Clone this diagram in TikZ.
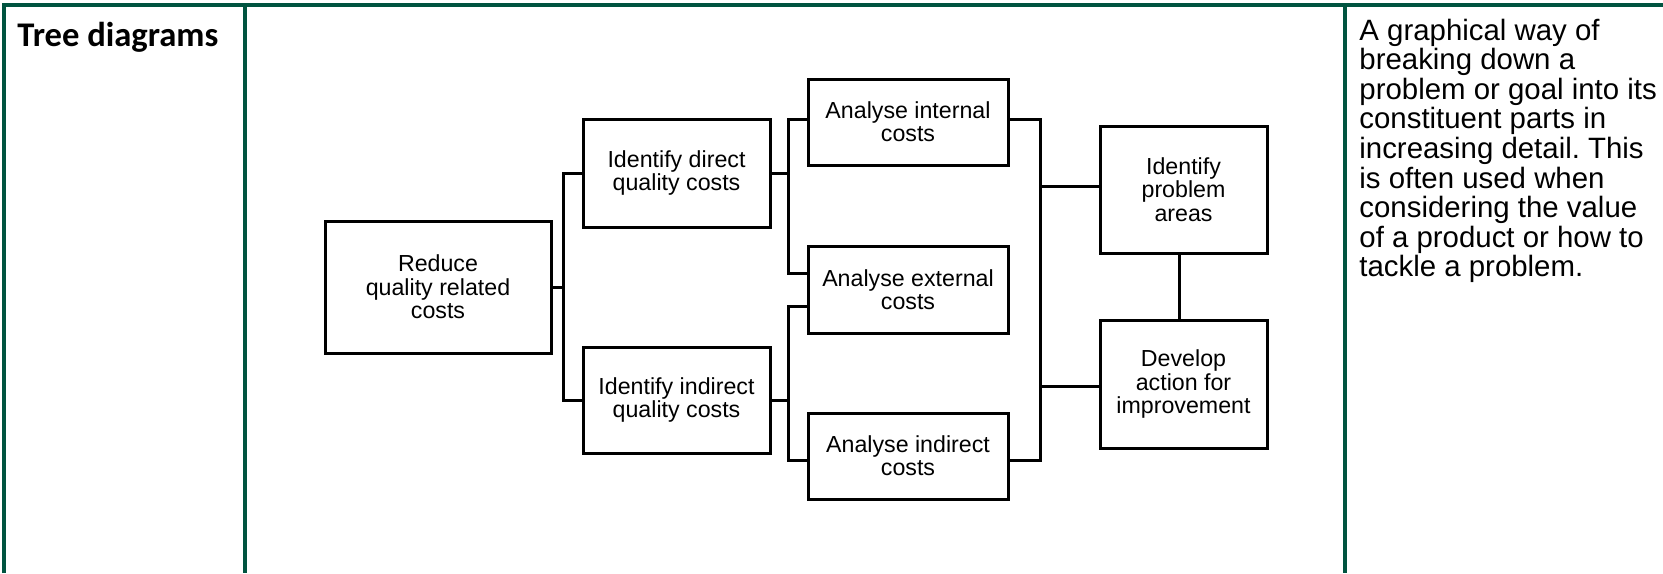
\documentclass[tikz,border=0pt]{standalone}
\usepackage{fontspec}
\setmainfont{Liberation Sans}
\newfontfamily\titlefont{Carlito}
\usetikzlibrary{calc}
\definecolor{framegreen}{RGB}{0,84,64}
\frenchspacing

\begin{document}
\begin{tikzpicture}[x=0.5pt,y=-0.5pt,
  frame/.style={draw=framegreen,line width=2pt},
  box/.style={draw,line width=1.5pt,align=center,inner sep=0pt,
    font=\fontsize{11.6pt}{11.65pt}\selectfont},
  conn/.style={draw,line width=1.5pt}]
\useasboundingbox (0,0) rectangle (1663,573);

% table frame
\draw[frame] (3.7,573) -- (3.7,4.7) -- (1663,4.7);
\draw[frame] (245.3,4.7) -- (245.3,573);
\draw[frame] (1344.5,4.7) -- (1344.5,573);

% first column heading
\node[anchor=base west,inner sep=0pt,
  font=\titlefont\bfseries\fontsize{17.3pt}{20pt}\selectfont] (title) at (17,46.7) {Tree diagrams};

% tree boxes
\node[box,minimum width=113pt,minimum height=66pt] (red) at (438,287) {Reduce\\quality related\\costs};
\node[box,minimum width=93.5pt,minimum height=54pt] (idd) at (676.5,173) {Identify direct\\quality costs};
\node[box,minimum width=93.5pt,minimum height=53pt] (idi) at (676.5,400) {Identify indirect\\quality costs};
\node[box,minimum width=100pt,minimum height=43pt] (aint) at (908,122) {Analyse internal\\costs};
\node[box,minimum width=100pt,minimum height=43.5pt] (aext) at (908,289.5) {Analyse external\\costs};
\node[box,minimum width=100pt,minimum height=43pt] (aind) at (908,456) {Analyse indirect\\costs};
\node[box,minimum width=83.5pt,minimum height=63.5pt] (idp) at (1183.5,189.5) {Identify\\problem\\areas};
\node[box,minimum width=83.5pt,minimum height=64pt] (dev) at (1183.5,384) {Develop\\action for\\improvement};

% junction points of the brackets
\coordinate (j1) at (563,287);
\coordinate (j2) at (788,173);
\coordinate (j3) at (788,400);
\coordinate (j4) at (1040,186);
\coordinate (j5) at (1040,386);

% connectors
\draw[conn] (red.east) -- (j1);
\draw[conn] (idd.west) -| (j1) |- (idi.west);
\draw[conn] (idd.east) -- (j2);
\draw[conn] ($(aint.west)+(0,-3)$) -| (j2) |- ($(aext.west)+(0,-16.5)$);
\draw[conn] (idi.east) -- (j3);
\draw[conn] ($(aext.west)+(0,17)$) -| (j3) |- ($(aind.west)+(0,4)$);
\draw[conn] ($(aint.east)+(0,-3)$) -| (j4) -- (j5) |- ($(aind.east)+(0,4)$);
\draw[conn] (j4) -- ($(idp.west)+(0,-3.5)$);
\draw[conn] (j5) -- ($(dev.west)+(0,2)$);
\draw[conn] ($(idp.south)+(-4,0)$) -- ($(dev.north)+(-4,0)$);

% description column
\node[anchor=base west,inner sep=0pt,font=\fontsize{14.7pt}{14.8pt}\selectfont] (desc) at (1359,40)
  {\parbox[t]{150pt}{\raggedright
   A graphical way of\\
   breaking down a\\
   problem or goal into its\\
   constituent parts in\\
   increasing detail. This\\
   is often used when\\
   considering the value\\
   of a product or how to\\
   tackle a problem.}};
\end{tikzpicture}
\end{document}
